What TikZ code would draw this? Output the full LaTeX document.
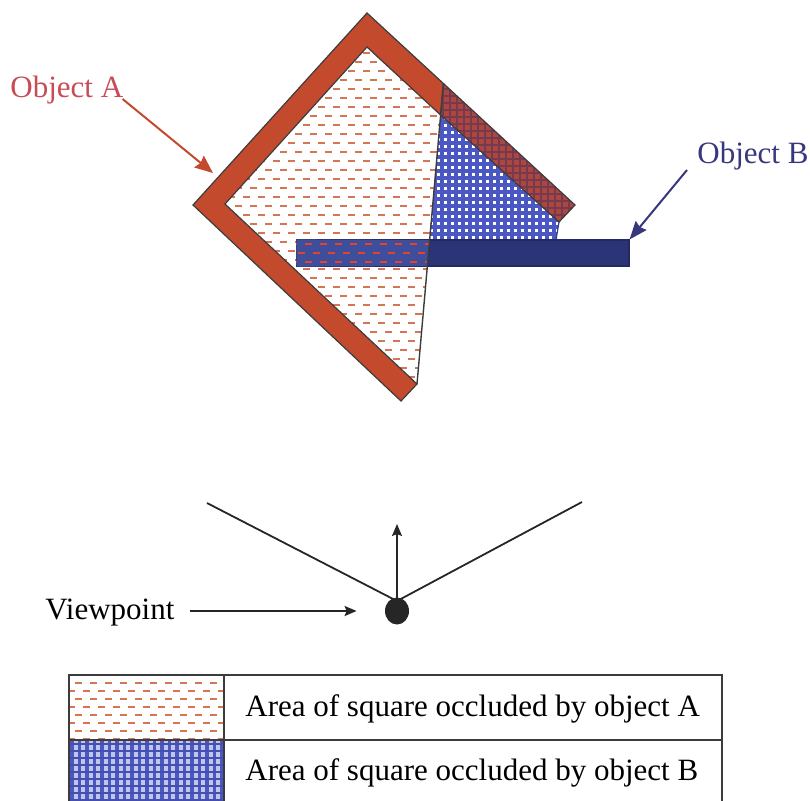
\documentclass[tikz,border=0pt]{standalone}
\usepackage{fontspec}
\setmainfont{Liberation Serif}
\usepackage{xcolor}
\usetikzlibrary{arrows.meta, positioning, shapes.geometric}

\definecolor{objred}{RGB}{196,74,46}
\definecolor{dashred}{RGB}{210,118,85}
\definecolor{gridblue}{RGB}{75,88,195}
\definecolor{barblue}{RGB}{42,52,118}
\definecolor{barmix}{RGB}{62,78,155}
\definecolor{mixred}{RGB}{172,70,62}
\definecolor{mixgrid}{RGB}{118,58,78}
\definecolor{labelA}{RGB}{200,75,85}
\definecolor{labelB}{RGB}{55,55,125}
\definecolor{edgegray}{RGB}{60,60,60}

\begin{document}
\begin{tikzpicture}[
    x=0.5pt, y=-0.5pt,
    lbl/.style={font=\fontsize{15.5}{18}\selectfont, inner sep=0pt},
    dashA/.style={dashred, line width=1.2pt, dash pattern=on 3.5pt off 4pt},
    gridline/.style={gridblue, line width=1.8pt},
    outline/.style={draw=edgegray, line width=0.6pt},
    arrowA/.style={objred, line width=1pt, -{Stealth[length=9pt,width=7.5pt,inset=1pt]}},
    arrowB/.style={labelB, line width=1pt, -{Stealth[length=9pt,width=7pt,inset=1pt]}},
    arrowV/.style={black!85, line width=0.9pt, -{Stealth[length=6pt,width=5pt,inset=1pt]}},
    legend/.style={edgegray, line width=1pt}
]
\useasboundingbox (0,0) rectangle (810,800);
\clip (0,0) rectangle (810,800);

% area occluded by object A
\begin{scope}
  \clip (225,204) -- (367,47) -- (440.6,115) -- (417,384) -- cycle;
  \foreach \yy in {44,62,...,390} \draw[dashA] (220,\yy) -- (450,\yy);
  \foreach \yy in {53,71,...,390} \draw[dashA, dash phase=3.75pt] (220,\yy) -- (450,\yy);
\end{scope}

% area occluded by object B
\begin{scope}
  \clip (440.6,115) -- (559,222) -- (556,240) -- (429.6,240) -- cycle;
  \foreach \xx in {428,435,...,566} \draw[gridline] (\xx,105) -- (\xx,245);
  \foreach \yy in {108,115,...,245} \draw[gridline] (425,\yy) -- (565,\yy);
\end{scope}
\draw[gridblue!70!black, line width=0.6pt] (559,222) -- (556,240);

% object B
\node[fill=barblue, draw=barblue!80!black, line width=0.6pt, minimum width=166pt,
      minimum height=13pt, inner sep=0pt] (barB) at (463,253) {};
\fill[barmix] (barB.north west) -- (429.6,240) -- (427.3,266) -- (barB.south west) -- cycle;
\begin{scope}
  \clip (barB.north west) -- (429.6,240) -- (427.3,266) -- (barB.south west) -- cycle;
  \foreach \yy in {244,262} \draw[dashA, red!45!dashred] (290,\yy) -- (440,\yy);
  \foreach \yy in {253} \draw[dashA, red!45!dashred, dash phase=3.75pt] (290,\yy) -- (440,\yy);
\end{scope}

% object A
\filldraw[fill=objred, outline] (401,401) -- (193,205) -- (367,13) -- (443.4,83.5)
  -- (440.6,115) -- (367,47) -- (225,204) -- (417,384) -- cycle;
% part of A in front of the occluded area of B
\fill[mixred] (443.4,83.5) -- (575,205) -- (559,222) -- (440.6,115) -- cycle;
\begin{scope}
  \clip (443.4,83.5) -- (575,205) -- (559,222) -- (440.6,115) -- cycle;
  \foreach \xx in {436,443,...,580} \draw[mixgrid, line width=1.2pt] (\xx,80) -- (\xx,225);
  \foreach \yy in {82,89,...,225} \draw[mixgrid, line width=1.2pt] (435,\yy) -- (580,\yy);
\end{scope}
\draw[outline] (443.4,83.5) -- (575,205) -- (559,222) -- (440.6,115);
\draw[edgegray, line width=0.7pt] (443.4,83.5) -- (417,384);

% labels
\node[lbl, text=labelA, anchor=base west] (objA) at (10,97) {Object A};
\node[lbl, text=labelB, anchor=base west] (objB) at (697,163) {Object B};
\coordinate (tipA) at (213,173);
\draw[arrowA] ([xshift=-0.5pt,yshift=-1pt]objA.base east) -- (tipA);
\draw[arrowB] ([shift={(-5pt,-3.5pt)}]objB.base west) -- (barB.north east);

% viewpoint
\node[ellipse, fill=black!85, minimum width=12pt, minimum height=13.5pt, inner sep=0pt] (vp) at (397,611) {};
\coordinate (apex) at (397,601);
\coordinate (fovL) at (207,503);
\coordinate (fovR) at (582,502);
\coordinate (dir) at (397,524);
\draw[black!85, line width=0.9pt] (fovL) -- (apex) -- (fovR);
\draw[arrowV] (apex) -- (dir);
\node[lbl, anchor=base west] (vptext) at (45,619) {Viewpoint};
\draw[arrowV] ([xshift=7.5pt]vptext.east |- vp.center) -- ([xshift=-14pt]vp.west);

% key
\begin{scope}
  \clip (69,675) rectangle (224,740);
  \foreach \yy in {683,699,...,740} \draw[dashA] (60,\yy) -- (230,\yy);
  \foreach \yy in {691,707,...,740} \draw[dashA, dash phase=3.75pt] (60,\yy) -- (230,\yy);
\end{scope}
\begin{scope}
  \clip (69,740) rectangle (224,810);
  \fill[gridblue!35] (69,740) rectangle (224,810);
  \foreach \xx in {72,79.5,...,224} \draw[gridblue, line width=1.8pt] (\xx,740) -- (\xx,810);
  \foreach \yy in {744,751,...,810} \draw[gridblue!90!black, line width=1pt] (69,\yy) -- (224,\yy);
\end{scope}
\draw[legend] (69,810) -- (69,675) -- (722,675) -- (722,810);
\draw[legend] (69,740) -- (722,740);
\draw[legend] (224,675) -- (224,810);
\node[lbl, anchor=west] (keyA) at (245,709) {Area of square occluded by object A};
\node[lbl, anchor=west] (keyB) at (245,773) {Area of square occluded by object B};
\end{tikzpicture}
\end{document}
